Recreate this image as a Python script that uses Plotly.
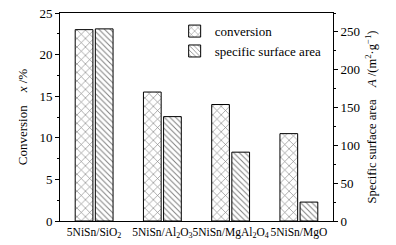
import plotly.graph_objects as go

categories = ["5NiSn/SiO<sub>2</sub>", "5NiSn/Al<sub>2</sub>O<sub>3</sub>",
              "5NiSn/MgAl<sub>2</sub>O<sub>4</sub>", "5NiSn/MgO"]
conversion = [23.0, 15.5, 14.0, 10.5]
surface_area = [254, 138, 91, 25]

font = "Liberation Serif, Times New Roman, serif"

fig = go.Figure()
fig.add_trace(go.Bar(
    x=categories, y=conversion, name="conversion", offsetgroup="1",
    marker=dict(color="white", line=dict(color="black", width=1),
                pattern=dict(shape="x", fgcolor="black", bgcolor="white", size=6, solidity=0.2)),
    yaxis="y"))
fig.add_trace(go.Bar(
    x=categories, y=surface_area, name="specific surface area", offsetgroup="2",
    marker=dict(color="white", line=dict(color="black", width=1),
                pattern=dict(shape="\\", fgcolor="black", bgcolor="white", size=4, solidity=0.25)),
    yaxis="y2"))

fig.update_layout(
    width=396, height=245,
    margin=dict(l=60, r=63, t=13, b=24),
    paper_bgcolor="white", plot_bgcolor="white",
    barmode="group", bargap=0.41, bargroupgap=0.12,
    font=dict(family=font, size=13, color="black"),
    showlegend=True,
    legend=dict(x=0.42, y=0.985, xanchor="left", yanchor="top",
                bgcolor="rgba(0,0,0,0)", font=dict(size=13), tracegroupgap=2,
                itemwidth=30),
    xaxis=dict(range=[-0.5, 3.5], showline=True, linecolor="black", linewidth=1,
               mirror=True, ticks="", tickangle=0, tickfont=dict(size=11.5), showgrid=False,
               automargin=False),
    yaxis=dict(range=[0, 25], dtick=5, showline=True, linecolor="black", linewidth=1,
               ticks="outside", ticklen=4, tickcolor="black", showgrid=False,
               tickfont=dict(size=13), automargin=False,
               minor=dict(dtick=2.5, ticks="outside", ticklen=2, tickcolor="black"),
               title=dict(text="Conversion    <i>x</i> /%", font=dict(size=13), standoff=8),
               zeroline=False),
    yaxis2=dict(range=[0, 275], dtick=50, overlaying="y", side="right",
                showline=True, linecolor="black", linewidth=1,
                ticks="outside", ticklen=4, tickcolor="black", showgrid=False,
                tickfont=dict(size=13), automargin=False,
                minor=dict(dtick=25, ticks="outside", ticklen=2, tickcolor="black"),
                title=dict(text="Specific surface area    <i>A</i> /(m<sup>2</sup>·g<sup>−1</sup>)",
                           font=dict(size=12.5), standoff=8),
                zeroline=False),
)

fig.write_html("out.html", config={"displayModeBar": False},
               post_script="document.body.style.margin='0';document.body.style.overflow='hidden';")
